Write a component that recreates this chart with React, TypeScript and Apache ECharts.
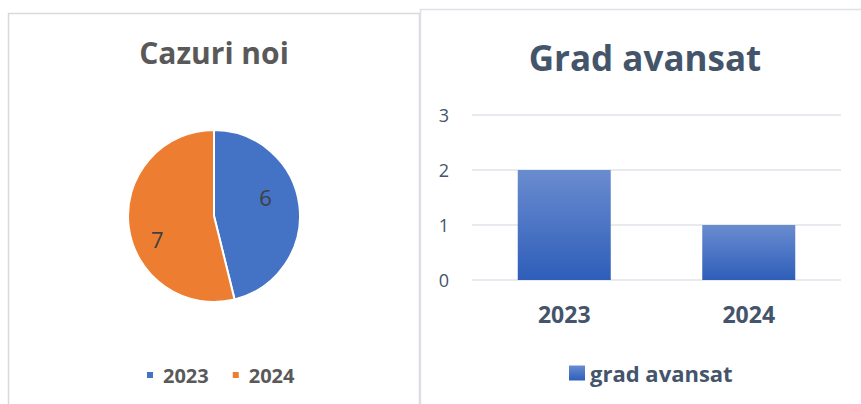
import React, { useEffect, useRef } from "react";
import * as echarts from "echarts";

const pieCategories = ["2023", "2024"];
const pieValues = [6, 7];
const pieColors = ["#4472C4", "#ED7D31"];

const barCategories = ["2023", "2024"];
const barValues = [2, 1];
const barSeriesName = "grad avansat";

const FONT = "'Open Sans', 'Noto Sans', sans-serif";

export default function App() {
  const ref = useRef<HTMLDivElement>(null);
  useEffect(() => {
    if (!ref.current) return;
    const chart = echarts.init(ref.current, undefined, { renderer: "svg" });
    const barGradient = new echarts.graphic.LinearGradient(0, 0, 0, 1, [
      { offset: 0, color: "#6A8CD0" },
      { offset: 1, color: "#2E5EB9" },
    ]);
    chart.setOption({
      animation: false,
      backgroundColor: "#ffffff",
      title: [
        {
          text: "Cazuri noi",
          left: 214,
          top: 34,
          textAlign: "center",
          padding: 0,
          textStyle: { fontFamily: FONT, fontSize: 30, fontWeight: "bold", color: "#595959", lineHeight: 36 },
        },
        {
          text: "Grad avansat",
          left: 645,
          top: 36,
          textAlign: "center",
          padding: 0,
          textStyle: { fontFamily: FONT, fontSize: 35, fontWeight: "bold", color: "#44546A", lineHeight: 42 },
        },
      ],
      graphic: [
        {
          type: "rect",
          shape: { x: 8.5, y: 13.5, width: 411, height: 420 },
          style: { fill: "none", stroke: "#d9d9d9", lineWidth: 1.5 },
          silent: true,
        },
        {
          type: "rect",
          shape: { x: 420.5, y: 9.5, width: 480, height: 420 },
          style: { fill: "none", stroke: "#dde2ea", lineWidth: 1.5 },
          silent: true,
        },
      ],
      legend: [
        {
          data: pieCategories,
          left: 145,
          top: 365,
          padding: 0,
          itemWidth: 8,
          itemHeight: 8,
          itemGap: 22,
          icon: "rect",
          textStyle: { fontFamily: FONT, fontSize: 20, fontWeight: "bold", color: "#595959", padding: [0, 0, 0, 4] },
        },
        {
          data: [barSeriesName],
          left: 569,
          top: 362,
          padding: 0,
          itemWidth: 16,
          itemHeight: 15,
          icon: "rect",
          textStyle: { fontFamily: FONT, fontSize: 22, fontWeight: "bold", color: "#44546A" },
        },
      ],
      grid: { left: 472, right: 20, top: 115, bottom: 124 },
      xAxis: {
        type: "category",
        data: barCategories,
        axisLine: { show: false },
        axisTick: { show: false },
        axisLabel: { fontFamily: FONT, fontSize: 23, fontWeight: "bold", color: "#44546A", margin: 22 },
      },
      yAxis: {
        type: "value",
        min: 0,
        max: 3,
        interval: 1,
        axisLine: { show: false },
        axisTick: { show: false },
        splitLine: { lineStyle: { color: "#dfe3e8", width: 1.5 } },
        axisLabel: { fontFamily: FONT, fontSize: 18, color: "#44546A", margin: 23 },
      },
      series: [
        {
          type: "pie",
          center: [214, 216],
          radius: 86,
          startAngle: 90,
          clockwise: true,
          itemStyle: { borderColor: "#ffffff", borderWidth: 2 },
          label: {
            show: true,
            position: "inside",
            formatter: "{c}",
            fontFamily: FONT,
            fontSize: 22,
            color: "#404040",
          },
          labelLine: { show: false },
          emphasis: { disabled: true },
          data: pieCategories.map((name, i) => ({
            name,
            value: pieValues[i],
            itemStyle: { color: pieColors[i] },
            label: { offset: i === 0 ? [6, -13] : [-11, 17] },
          })),
        },
        {
          type: "bar",
          name: barSeriesName,
          data: barValues,
          barWidth: 93,
          itemStyle: { color: barGradient },
        },
      ],
    });
    return () => chart.dispose();
  }, []);
  return (
    <div
      ref={ref}
      style={{ position: "fixed", left: 0, top: 0, width: 861, height: 404, background: "#fff" }}
    />
  );
}
